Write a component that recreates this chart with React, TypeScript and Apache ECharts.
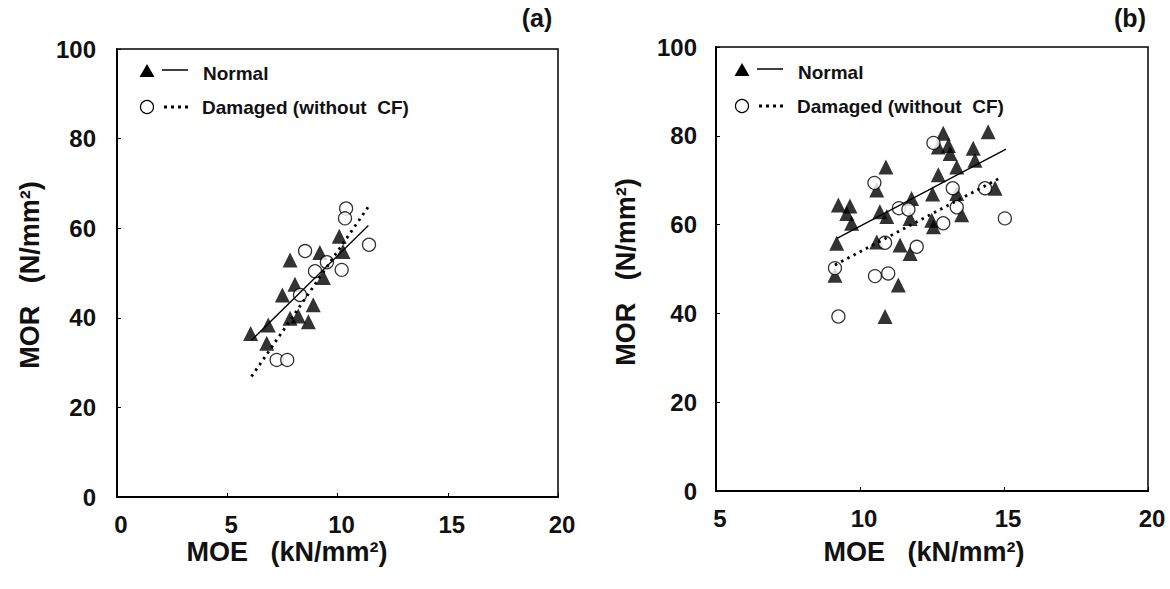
import React, { useEffect, useRef } from "react";
import * as echarts from "echarts";

// Panel (a)
const normalA: [number, number][] = [
  [6.06, 36.5], [6.86, 38.4], [6.79, 34.3], [7.5, 45.1], [7.85, 52.9], [8.07, 47.5],
  [7.85, 39.9], [8.22, 40.4], [8.68, 39.1], [8.9, 42.9], [9.2, 54.6], [9.36, 49.0],
  [10.08, 58.2], [10.25, 54.8],
];
const damagedA: [number, number][] = [
  [10.39, 64.4], [10.34, 62.2], [11.43, 56.3], [8.53, 54.9], [9.52, 52.4], [8.98, 50.4],
  [10.19, 50.7], [8.3, 45.1], [7.24, 30.6], [7.72, 30.6],
];
const normalFitA: [number, number][] = [[6.1, 35.0], [11.4, 60.6]];
const damagedFitA: [number, number][] = [[6.1, 26.9], [11.4, 64.8]];

// Panel (b)
const normalB: [number, number][] = [
  [10.9, 73.0], [9.25, 64.4], [9.65, 64.2], [9.54, 62.5], [9.71, 60.3], [9.19, 55.8],
  [9.13, 48.6], [10.58, 67.8], [10.69, 62.9], [10.93, 61.8], [10.58, 56.1], [11.39, 55.4],
  [11.74, 53.5], [11.33, 46.4], [10.87, 39.3], [11.79, 65.9], [11.74, 61.4],
  [12.89, 80.6], [14.45, 80.9], [12.72, 77.5], [13.07, 77.8], [13.13, 76.0], [13.36, 73.0],
  [13.93, 77.2], [13.99, 74.5], [12.72, 71.2], [12.52, 66.9], [13.36, 67.0], [14.69, 68.2],
  [12.49, 61.0], [12.55, 59.5], [13.53, 62.2],
];
const damagedB: [number, number][] = [
  [10.5, 69.4], [11.35, 63.7], [11.68, 63.4], [10.87, 55.9], [11.97, 55.0], [9.13, 50.2],
  [10.52, 48.4], [10.98, 49.0], [9.25, 39.3], [12.55, 78.4], [13.22, 68.2], [14.34, 68.2],
  [13.36, 63.9], [12.89, 60.3], [15.03, 61.4],
];
const normalFitB: [number, number][] = [[9.2, 56.9], [15.07, 77.0]];
const damagedFitB: [number, number][] = [[9.13, 50.9], [14.92, 70.7]];

const xTicksA = { min: 0, max: 20, interval: 5 };
const xTicksB = { min: 5, max: 20, interval: 5 };
const yTicks = { min: 0, max: 100, interval: 20 };

const seriesNames = ["Normal", "Damaged (without  CF)"];
const panelTitles = ["(a)", "(b)"];
const xTitle = "MOE   (kN/mm²)";
const yTitle = "MOR   (N/mm²)";

const FONT = "'Liberation Sans', Arial, sans-serif";

function axisCommon(extra: any, margin: number, isX: boolean) {
  return {
    ...extra,
    axisLine: { show: true, onZero: false, lineStyle: { color: "#000", width: 2 } },
    axisTick: { show: true, inside: true, length: 4, lineStyle: { color: "#000", width: 1 } },
    splitLine: { show: false },
    axisLabel: {
      color: "#111",
      fontFamily: FONT,
      fontWeight: "bold",
      fontSize: 24,
      margin,
      padding: isX ? [0, 0, 0, 8] : 0,
    },
  };
}

function legendGraphics(x0: number, y0: number) {
  return [
    {
      type: "polygon",
      shape: { points: [[x0, y0 - 7], [x0 - 7.5, y0 + 6], [x0 + 7.5, y0 + 6]] },
      style: { fill: "#000" },
    },
    {
      type: "line",
      shape: { x1: x0 + 15, y1: y0 - 1, x2: x0 + 41, y2: y0 - 1 },
      style: { stroke: "#000", lineWidth: 1.5 },
    },
    {
      type: "text",
      x: x0 + 56,
      y: y0 + 2,
      style: {
        text: seriesNames[0],
        font: `bold 19px ${FONT}`,
        fill: "#111",
        textVerticalAlign: "middle",
      },
    },
    {
      type: "circle",
      shape: { cx: x0, cy: y0 + 36, r: 6.5 },
      style: { fill: "#fff", stroke: "#000", lineWidth: 1.2 },
    },
    {
      type: "line",
      shape: { x1: x0 + 17, y1: y0 + 36, x2: x0 + 42, y2: y0 + 36 },
      style: { stroke: "#000", lineWidth: 3, lineDash: [3, 4] },
    },
    {
      type: "text",
      x: x0 + 55,
      y: y0 + 36,
      style: {
        text: seriesNames[1],
        font: `bold 19px ${FONT}`,
        fill: "#111",
        textVerticalAlign: "middle",
      },
    },
  ];
}

function panelSeries(idx: number, normal: any, damaged: any, nFit: any, dFit: any) {
  return [
    {
      type: "scatter",
      name: seriesNames[0],
      xAxisIndex: idx,
      yAxisIndex: idx,
      data: normal,
      symbol: "triangle",
      symbolSize: 15,
      itemStyle: { color: "#000" },
      z: 2,
    },
    {
      type: "scatter",
      name: seriesNames[1],
      xAxisIndex: idx,
      yAxisIndex: idx,
      data: damaged,
      symbol: "circle",
      symbolSize: 13,
      itemStyle: { color: "#fff", borderColor: "#000", borderWidth: 1.3 },
      z: 3,
    },
    {
      type: "line",
      xAxisIndex: idx,
      yAxisIndex: idx,
      data: nFit,
      symbol: "none",
      lineStyle: { color: "#000", width: 1.3 },
      z: 4,
    },
    {
      type: "line",
      xAxisIndex: idx,
      yAxisIndex: idx,
      data: dFit,
      symbol: "none",
      lineStyle: { color: "#000", width: 2.8, type: [2.5, 4.5] },
      z: 4,
    },
  ];
}

export default function App() {
  const ref = useRef<HTMLDivElement>(null);
  useEffect(() => {
    document.body.style.margin = "0";
    if (!ref.current) return;
    const chart = echarts.init(ref.current, undefined, { renderer: "svg" });
    const titleStyle = (text: string, size: number) => ({
      text,
      font: `bold ${size}px ${FONT}`,
      fill: "#111",
      textAlign: "center",
      textVerticalAlign: "middle",
    });
    chart.setOption({
      animation: false,
      backgroundColor: "#fff",
      grid: [
        { left: 117, top: 49, width: 441, height: 448, show: true, borderColor: "#000", borderWidth: 1.5 },
        { left: 716, top: 47, width: 432, height: 444, show: true, borderColor: "#000", borderWidth: 1.5 },
      ],
      xAxis: [
        axisCommon({ type: "value", gridIndex: 0, ...xTicksA }, 15, true),
        axisCommon({ type: "value", gridIndex: 1, ...xTicksB }, 15, true),
      ],
      yAxis: [
        axisCommon({ type: "value", gridIndex: 0, ...yTicks }, 21, false),
        axisCommon({ type: "value", gridIndex: 1, ...yTicks }, 19, false),
      ],
      series: [
        ...panelSeries(0, normalA, damagedA, normalFitA, damagedFitA),
        ...panelSeries(1, normalB, damagedB, normalFitB, damagedFitB),
      ],
      graphic: [
        ...legendGraphics(147, 71),
        ...legendGraphics(742, 70),
        { type: "text", x: 537, y: 18, style: titleStyle(panelTitles[0], 25) },
        { type: "text", x: 1130, y: 18, style: titleStyle(panelTitles[1], 25) },
        { type: "text", x: 287, y: 552, style: titleStyle(xTitle, 27) },
        { type: "text", x: 924, y: 552, style: titleStyle(xTitle, 27) },
        { type: "text", x: 30, y: 275, rotation: Math.PI / 2, style: titleStyle(yTitle, 27) },
        { type: "text", x: 626, y: 272, rotation: Math.PI / 2, style: titleStyle(yTitle, 27) },
      ],
    });
    return () => chart.dispose();
  }, []);
  return <div ref={ref} style={{ width: 1170, height: 589 }} />;
}
